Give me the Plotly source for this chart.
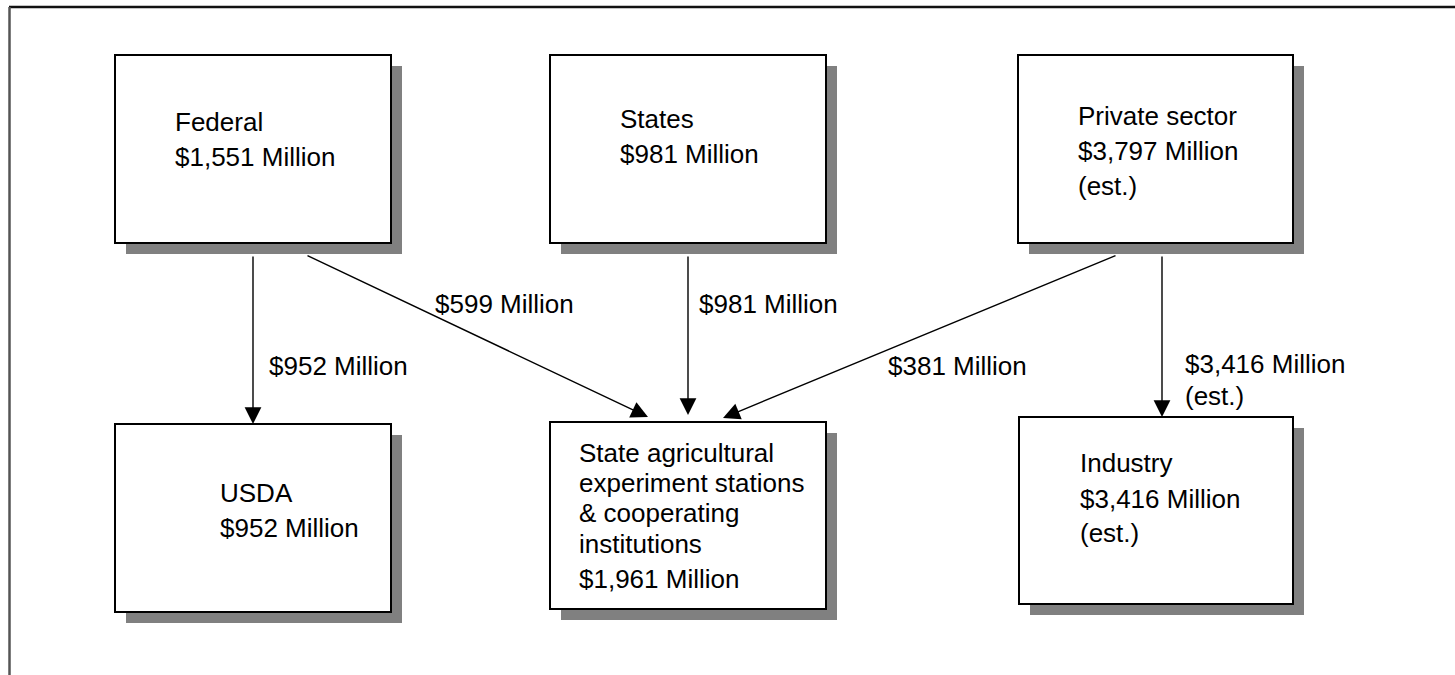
import plotly.graph_objects as go

# ---------------- data ----------------
node_lines = [
    ["Federal"],
    ["States"],
    ["Private sector"],
    ["USDA"],
    ["State agricultural", "experiment stations", "& cooperating", "institutions"],
    ["Industry"],
]
node_amounts = [1551, 981, 3797, 952, 1961, 3416]   # $ Million
node_estimated = [False, False, True, False, False, True]

flow_sources = [0, 0, 1, 2, 2]
flow_targets = [3, 4, 4, 4, 5]
flow_amounts = [952, 599, 981, 381, 3416]           # $ Million
flow_estimated = [False, False, False, False, True]

# ---------------- layout (pixel space of the page) ----------------
W, H = 1455, 675
box_x0 = [115, 550, 1018, 115, 550, 1019]
box_x1 = [391, 826, 1293, 391, 826, 1293]
box_y0 = [55, 55, 55, 424, 422, 417]
box_y1 = [243, 243, 243, 612, 609, 604]
text_x = [173, 618, 1076, 218, 577, 1078]
text_baselines = [
    [131, 166],
    [128, 163],
    [125, 160, 195],
    [502, 537],
    [462, 492, 522, 553, 588],
    [472, 508, 542],
]
SHADOW = 11

arrow_tail = [(253, 255), (306, 255), (688, 255), (1117, 255), (1162, 255)]
arrow_tip = [(253, 424), (648, 417), (688, 415), (723, 418), (1162, 417)]
label_x = [267, 433, 697, 886, 1183]
label_baselines = [[375], [313], [313], [375], [373, 405]]

FONT = "Liberation Sans, Arial, Helvetica, sans-serif"
FS = 26
ASC = 26   # distance from annotation top to first baseline


def money_lines(v, est):
    out = [f"${v:,} Million"]
    if est:
        out.append("(est.)")
    return out


def add_lines(annotations, x, lines, baselines):
    for txt, b in zip(lines, baselines):
        annotations.append(dict(
            x=x, y=b - ASC, xref="x", yref="y", xanchor="left", yanchor="top",
            align="left", showarrow=False, text=txt,
            font=dict(family=FONT, size=FS, color="black")))


fig = go.Figure()
shapes = []
annotations = []

# outer frame
shapes.append(dict(type="line", x0=9, x1=W + 5, y0=7, y1=7,
                   line=dict(color="#111", width=2.5), layer="above"))
shapes.append(dict(type="line", x0=9.5, x1=9.5, y0=7, y1=H + 5,
                   line=dict(color="#555", width=2.5), layer="above"))

for i in range(len(node_lines)):
    shapes.append(dict(type="rect", x0=box_x0[i] + SHADOW, x1=box_x1[i] + SHADOW,
                       y0=box_y0[i] + SHADOW, y1=box_y1[i] + SHADOW,
                       fillcolor="#808080", line=dict(width=0), layer="below"))
    shapes.append(dict(type="rect", x0=box_x0[i], x1=box_x1[i],
                       y0=box_y0[i], y1=box_y1[i],
                       fillcolor="white", line=dict(color="black", width=2), layer="below"))
    add_lines(annotations, text_x[i],
              node_lines[i] + money_lines(node_amounts[i], node_estimated[i]),
              text_baselines[i])

for k in range(len(flow_amounts)):
    (tx, ty), (hx, hy) = arrow_tail[k], arrow_tip[k]
    annotations.append(dict(
        x=hx, y=hy, ax=tx, ay=ty, xref="x", yref="y", axref="x", ayref="y",
        text="", showarrow=True, arrowhead=2, arrowsize=2.4, arrowwidth=1.4,
        arrowcolor="black", standoff=0, startstandoff=0))
    add_lines(annotations, label_x[k],
              money_lines(flow_amounts[k], flow_estimated[k]), label_baselines[k])

fig.update_layout(
    width=W, height=H, margin=dict(l=0, r=0, t=0, b=0),
    paper_bgcolor="white", plot_bgcolor="white",
    xaxis=dict(range=[0, W], visible=False, fixedrange=True),
    yaxis=dict(range=[H, 0], visible=False, fixedrange=True),
    shapes=shapes, annotations=annotations, showlegend=False)

fig.write_html(
    "out.html",
    config={"displayModeBar": False},
    post_script="document.body.style.margin='0';document.body.style.overflow='hidden';")
